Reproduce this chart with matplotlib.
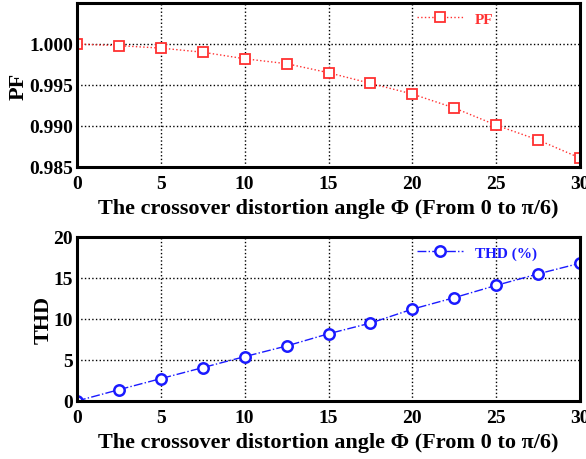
import matplotlib
matplotlib.use("Agg")
import matplotlib.pyplot as plt

# crossover distortion angle (deg) and measured results
angle = [0, 2.5, 5, 7.5, 10, 12.5, 15, 17.5, 20, 22.5, 25, 27.5, 30]
pf = [1.0000, 0.9998, 0.9995, 0.9990, 0.9982, 0.9976, 0.9965, 0.9952,
      0.9939, 0.9922, 0.9901, 0.9883, 0.9861]
thd = [0.0, 1.38, 2.73, 4.07, 5.41, 6.71, 8.2, 9.5, 11.2, 12.6, 14.1, 15.5, 16.8]

xlabel = "The crossover distortion angle \u03a6 (From 0 to \u03c0/6)"

plt.rcParams['font.family'] = ['Liberation Serif', 'DejaVu Serif']
plt.rcParams['font.weight'] = 'bold'

fig = plt.figure(figsize=(5.86, 4.6), dpi=100)
ax1 = fig.add_axes([77 / 586, 1 - 168 / 460, 503 / 586, 164 / 460])
ax2 = fig.add_axes([77 / 586, 1 - 402 / 460, 503 / 586, 164 / 460])


def style(ax):
    for s in ax.spines.values():
        s.set_linewidth(2.2)
    ax.grid(True, color='black', linestyle=':', linewidth=1.0)
    ax.tick_params(length=0, labelsize=14)
    ax.tick_params(axis='x', pad=6)
    ax.tick_params(axis='y', pad=3)
    for lab in ax.get_xticklabels() + ax.get_yticklabels():
        lab.set_fontweight('bold')
    ax.set_xlim(0, 30)
    ax.set_xticks([0, 5, 10, 15, 20, 25, 30])
    ax.set_xlabel(xlabel, fontsize=16, fontweight='bold', labelpad=4)


ax1.plot(angle, pf, color='#ff3030', linestyle=':', linewidth=1.0,
         marker='s', markersize=6.5, markerfacecolor='white',
         markeredgecolor='#ff3030', markeredgewidth=1.3, label='PF')
ax1.set_ylim(0.985, 1.005)
ax1.set_yticks([0.985, 0.990, 0.995, 1.000])
ax1.set_yticklabels(['0.985', '0.990', '0.995', '1.000'])
ax1.set_ylabel('PF', fontsize=16, fontweight='bold', labelpad=0)
style(ax1)
leg1 = ax1.legend(loc='upper right', frameon=False, fontsize=11,
                  bbox_to_anchor=(0.855, 1.03), handlelength=3)
for t in leg1.get_texts():
    t.set_color('#ff3030')

ax2.plot(angle, thd, color='#1a1aff', linestyle='-.', linewidth=1.0,
         marker='o', markersize=7.5, markerfacecolor='white',
         markeredgecolor='#1a1aff', markeredgewidth=1.8, label='THD (%)')
ax2.set_ylim(0, 20)
ax2.set_yticks([0, 5, 10, 15, 20])
ax2.set_ylabel('THD', fontsize=16, fontweight='bold', labelpad=0)
style(ax2)
leg2 = ax2.legend(loc='upper right', frameon=False, fontsize=11,
                  bbox_to_anchor=(0.942, 1.03), handlelength=3)
for t in leg2.get_texts():
    t.set_color('#1a1aff')

fig.savefig('out.png', dpi=100)
